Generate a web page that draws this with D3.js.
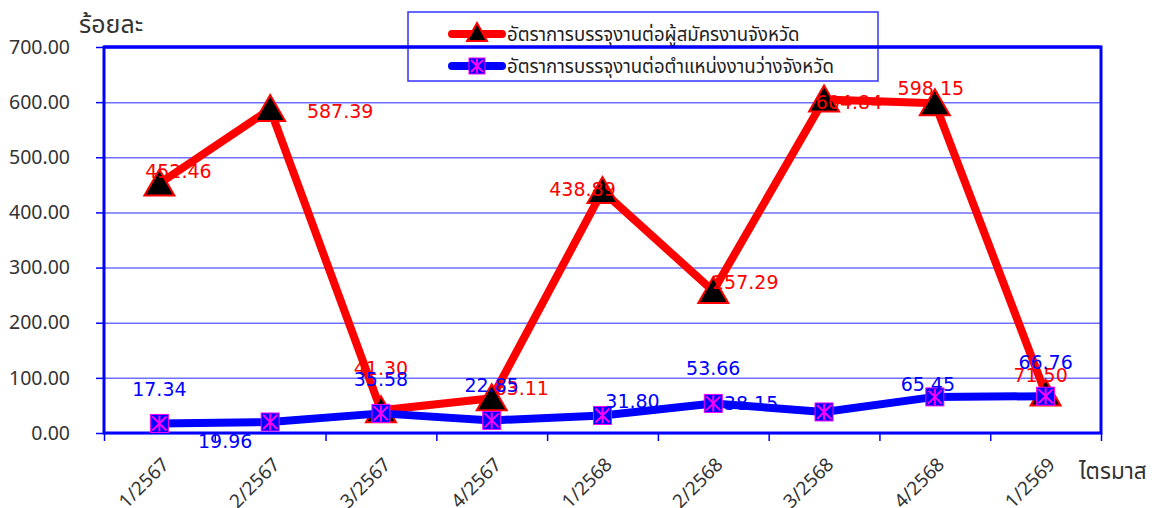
<!DOCTYPE html>
<html>
<head>
<meta charset="utf-8">
<script src="https://cdn.jsdelivr.net/npm/d3@7"></script>
<style>
  body { margin: 0; background: #fff; }
  svg text { font-family: "Noto Sans Thai", "Noto Sans", "Open Sans", sans-serif; }
</style>
</head>
<body>
<svg id="chart" width="1156" height="508"></svg>
<script>
// quarters (Thai Buddhist year)
const quarters = ["1/2567", "2/2567", "3/2567", "4/2567", "1/2568", "2/2568", "3/2568", "4/2568", "1/2569"];
// rate of placements per provincial job applicants
const applicantRate = [452.46, 587.39, 41.30, 63.11, 438.89, 257.29, 604.84, 598.15, 71.50];
// rate of placements per provincial vacancies
const vacancyRate = [17.34, 19.96, 35.58, 22.85, 31.80, 53.66, 38.15, 65.45, 66.76];
const yTicks = [0, 100, 200, 300, 400, 500, 600, 700];
const seriesNames = ["อัตราการบรรจุงานต่อผู้สมัครงานจังหวัด", "อัตราการบรรจุงานต่อตำแหน่งงานว่างจังหวัด"];

// label offsets (px) the way excel happened to place them
const redLabelOff = [[19,-12],[70,2],[0,-42],[30,-10],[-20,-2],[32,-9],[25,3],[-4,-15],[-5,-18]];
const blueLabelOff = [[0,-34],[-45,19],[0,-34],[0,-35],[30,-14],[0,-35],[-73,-9],[-7,-13],[0,-34]];

const svg = d3.select("svg#chart");
const pl = 104, pr = 1101, pt = 47, pb = 433;

const y = d3.scaleLinear().domain([0, 700]).range([pb, pt]);
const x = d3.scaleBand().domain(quarters).range([pl, pr]);
const xb = d3.scaleLinear().domain([0, quarters.length]).range([pl, pr]);
const cx = d => x(d) + x.bandwidth() / 2;

// gridlines
svg.append("g")
  .attr("transform", "translate(" + pl + ",0)")
  .call(d3.axisLeft(y).tickValues(yTicks).tickSize(-(pr - pl)).tickFormat(""))
  .call(g => g.select(".domain").remove())
  .call(g => g.selectAll("line").attr("stroke", "#7070ff").attr("stroke-width", 1.5));

// y axis
svg.append("g")
  .attr("transform", "translate(" + pl + ",0)")
  .call(d3.axisLeft(y).tickValues(yTicks).tickSize(8).tickPadding(26).tickFormat(d3.format(".2f")))
  .call(g => g.select(".domain").remove())
  .call(g => g.selectAll("line").attr("stroke", "#0000ff").attr("stroke-width", 1.5))
  .call(g => g.selectAll("text").attr("fill", "#333").style("font-size", "19.5px")
    .style("font-family", "'Noto Sans', sans-serif"));

// x axis boundary ticks
svg.append("g")
  .attr("transform", "translate(0," + pb + ")")
  .call(d3.axisBottom(xb).tickValues(d3.range(quarters.length + 1)).tickSize(8).tickFormat(""))
  .call(g => g.select(".domain").remove())
  .call(g => g.selectAll("line").attr("stroke", "#0000ff").attr("stroke-width", 1.5));

// x labels
svg.append("g")
  .attr("transform", "translate(0," + pb + ")")
  .call(d3.axisBottom(x).tickSize(0).tickFormat(d => d))
  .call(g => g.select(".domain").remove())
  .call(g => g.selectAll("text")
    .attr("fill", "#333")
    .style("font-size", "19px")
    .style("font-family", "'Noto Sans', sans-serif")
    .attr("text-anchor", "end")
    .attr("y", 0).attr("dy", "0.35em")
    .attr("transform", "translate(6,28) rotate(-45)"));

// frame
svg.append("rect")
  .attr("x", pl).attr("y", pt)
  .attr("width", pr - pl).attr("height", pb - pt)
  .attr("fill", "none").attr("stroke", "#0000ff").attr("stroke-width", 3);

// axis titles
svg.append("text").attr("x", 79).attr("y", 33).text("ร้อยละ")
  .attr("fill", "#333").style("font-size", "25px");
svg.append("text").attr("x", 1079).attr("y", 479).text("ไตรมาส")
  .attr("fill", "#333").style("font-size", "22.5px");

const triPath = "M0,-16L15,10L-15,10Z";
function starMarker(g, s) {
  g.append("rect").attr("x", -s).attr("y", -s).attr("width", 2 * s).attr("height", 2 * s)
    .attr("fill", "#0000ff").attr("stroke", "#ff00ff").attr("stroke-width", 1);
  g.append("path")
    .attr("d", "M0," + (-s + 1) + "V" + (s - 1) + "M" + (-s + 2) + "," + (-s + 2) + "L" + (s - 2) + "," + (s - 2) +
      "M" + (s - 2) + "," + (-s + 2) + "L" + (-s + 2) + "," + (s - 2))
    .attr("stroke", "#ff00ff").attr("stroke-width", 2);
}

// red series
const line = d3.line().x((d, i) => cx(quarters[i])).y(d => y(d));
svg.append("path").datum(applicantRate).attr("d", line)
  .attr("fill", "none").attr("stroke", "#ff0000").attr("stroke-width", 8).attr("stroke-linejoin", "round");
svg.selectAll(".tri").data(applicantRate).join("path").attr("class", "tri")
  .attr("d", triPath)
  .attr("transform", (d, i) => "translate(" + cx(quarters[i]) + "," + (y(d) + 2) + ")")
  .attr("fill", "#000").attr("stroke", "#ff0000").attr("stroke-width", 2);

// blue series
svg.append("path").datum(vacancyRate).attr("d", line)
  .attr("fill", "none").attr("stroke", "#0000ff").attr("stroke-width", 8).attr("stroke-linejoin", "round");
vacancyRate.forEach((d, i) => {
  const g = svg.append("g").attr("transform", "translate(" + cx(quarters[i]) + "," + y(d) + ")");
  starMarker(g, 9);
});

// data labels
const lblFont = "'DejaVu Sans', Verdana, sans-serif";
svg.selectAll(".rlbl").data(applicantRate).join("text").attr("class", "rlbl")
  .attr("x", (d, i) => cx(quarters[i]) + redLabelOff[i][0])
  .attr("y", (d, i) => y(d) + redLabelOff[i][1])
  .attr("dy", "0.35em").attr("text-anchor", "middle")
  .attr("fill", "#ff0000").style("font-size", "19px").style("font-family", lblFont)
  .text(d => d3.format(".2f")(d));
svg.selectAll(".blbl").data(vacancyRate).join("text").attr("class", "blbl")
  .attr("x", (d, i) => cx(quarters[i]) + blueLabelOff[i][0])
  .attr("y", (d, i) => y(d) + blueLabelOff[i][1])
  .attr("dy", "0.35em").attr("text-anchor", "middle")
  .attr("fill", "#0000ff").style("font-size", "19px").style("font-family", lblFont)
  .text(d => d3.format(".2f")(d));

// legend
const lg = svg.append("g");
lg.append("rect").attr("x", 408).attr("y", 12).attr("width", 470).attr("height", 69)
  .attr("fill", "none").attr("stroke", "#3333ff").attr("stroke-width", 1.5);
[0, 1].forEach(k => {
  const ly = 34 + k * 32;
  lg.append("line").attr("x1", 452).attr("x2", 502).attr("y1", ly).attr("y2", ly)
    .attr("stroke", k ? "#0000ff" : "#ff0000").attr("stroke-width", 8).attr("stroke-linecap", "round");
  const m = lg.append("g").attr("transform", "translate(477," + ly + ")");
  if (k) starMarker(m, 8);
  else m.append("path").attr("d", "M0,-11L10,7L-10,7Z").attr("fill", "#000").attr("stroke", "#ff0000").attr("stroke-width", 2);
  lg.append("text").attr("x", 507).attr("y", ly).attr("dy", "0.35em").text(seriesNames[k])
    .attr("fill", "#222").style("font-size", "18.6px");
});
// plot top edge runs through the legend
svg.append("line").attr("x1", pl).attr("x2", pr).attr("y1", pt).attr("y2", pt)
  .attr("stroke", "#0000ff").attr("stroke-width", 3);
</script>
</body>
</html>
